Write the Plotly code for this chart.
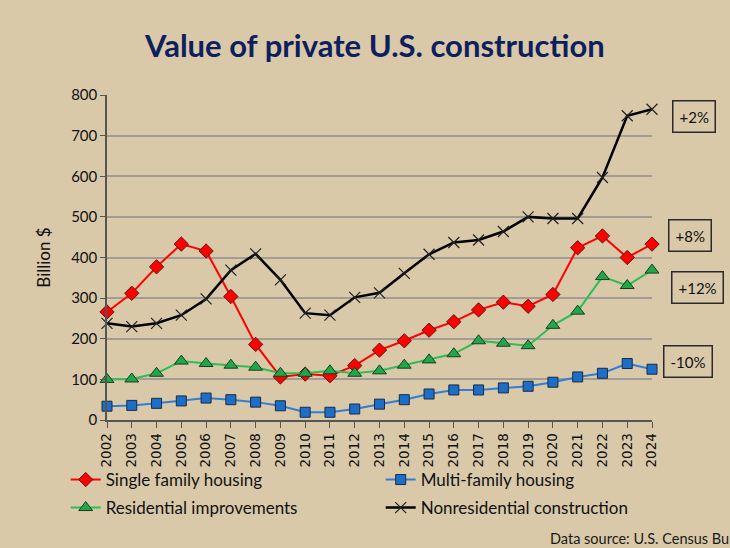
import plotly.graph_objects as go

years = [str(y) for y in range(2002, 2025)]
single_family = [266, 312, 377, 433, 416, 304, 186, 106, 113, 109, 134, 172,
                 195, 221, 242, 271, 290, 280, 309, 424, 453, 400, 433]
multi_family = [34, 36, 41, 47, 54, 50, 44, 35, 19, 19, 27, 39,
                50, 64, 74, 74, 79, 83, 93, 106, 115, 139, 125]
residential_impr = [100, 101, 115, 145, 139, 135, 130, 115, 115, 121, 115, 121,
                    135, 148, 163, 195, 189, 183, 233, 268, 353, 331, 369]
nonresidential = [238, 230, 238, 258, 298, 369, 409, 345, 263, 258, 302, 313,
                  361, 408, 437, 443, 464, 500, 496, 496, 597, 749, 765]

series_names = ["Single family housing", "Multi-family housing",
                "Residential improvements", "Nonresidential construction"]
change_labels = ["+8%", "-10%", "+12%", "+2%"]
label_levels = [455, 143, 325, 748]

title_text = "Value of private U.S. construction"
y_title = "Billion $"
source_text = "Data source: U.S. Census Bureau"

BG = "#D9C9A9"
font_main = "Lato, 'Open Sans', sans-serif"

fig = go.Figure()
fig.add_trace(go.Scatter(
    x=years, y=single_family, name=series_names[0], mode="lines+markers", legend="legend",
    line=dict(color="#FF0000", width=2),
    marker=dict(symbol="diamond", size=11, color="#FF0000", line=dict(color="#5a1a10", width=1)),
    cliponaxis=False))
fig.add_trace(go.Scatter(
    x=years, y=multi_family, name=series_names[1], mode="lines+markers", legend="legend",
    line=dict(color="#2F7ED8", width=2),
    marker=dict(symbol="square", size=10, color="#1C6FC9", line=dict(color="#1d2a40", width=1)),
    cliponaxis=False))
fig.add_trace(go.Scatter(
    x=years, y=residential_impr, name=series_names[2], mode="lines+markers", legend="legend2",
    line=dict(color="#2DBE55", width=2),
    marker=dict(symbol="triangle-up", size=12, color="#1FA84A", line=dict(color="#1d3a20", width=1)),
    cliponaxis=False))
fig.add_trace(go.Scatter(
    x=years, y=nonresidential, name=series_names[3], mode="lines+markers", legend="legend2",
    line=dict(color="#000000", width=2.5),
    marker=dict(symbol="x-thin", size=11, color="#000000", line=dict(color="#222222", width=1.2)),
    cliponaxis=False))

annotations = [
    dict(text=title_text, xref="paper", yref="paper", x=0.49, y=1.0, yshift=50,
         xanchor="center", yanchor="middle", showarrow=False,
         font=dict(family=font_main, size=31, color="#0E1F5E", weight="bold")),
    dict(text=source_text, xref="paper", yref="paper", x=(548 - 107) / 545, y=0,
         yshift=-118, xanchor="left", yanchor="middle", showarrow=False,
         font=dict(family=font_main, size=14.5, color="#1a1a1a")),
]
label_x = [690, 688, 698, 694]
for lab, lev, lx in zip(change_labels, label_levels, label_x):
    annotations.append(dict(
        text=lab, xref="paper", yref="y", x=(lx - 107) / 545, y=lev,
        xanchor="center", yanchor="middle", showarrow=False,
        font=dict(family=font_main, size=15, color="#111111"),
        bordercolor="#2a2a2a", borderwidth=1.5, borderpad=6, bgcolor=BG))

legend_common = dict(orientation="h", x=-0.0758, xanchor="left", yanchor="middle",
                     font=dict(family=font_main, size=17, color="#111111"),
                     entrywidth=270, entrywidthmode="pixels", itemwidth=30,
                     bgcolor="rgba(0,0,0,0)", traceorder="normal")

fig.update_layout(
    width=730, height=548,
    paper_bgcolor=BG, plot_bgcolor=BG,
    margin=dict(l=107, r=78, t=95, b=128),
    showlegend=True,
    legend=dict(legend_common, y=(420 - 480) / 325),
    legend2=dict(legend_common, y=(420 - 508) / 325),
    annotations=annotations,
    xaxis=dict(type="category", range=[0, 22], tickangle=-90,
               tickfont=dict(family="DejaVu Sans", size=13.5, color="#111111"),
               ticks="outside", ticklen=6, tickcolor="#555555",
               showline=True, linecolor="#555555", linewidth=1.5,
               showgrid=False, zeroline=False, fixedrange=True),
    yaxis=dict(range=[0, 800], dtick=100, tickfont=dict(family=font_main, size=15, color="#111111"),
               ticks="outside", ticklen=5, tickcolor="#555555",
               showline=True, linecolor="#555555", linewidth=1.5,
               showgrid=True, gridcolor="#A29C94", gridwidth=1.5, zeroline=False,
               title=dict(text=y_title, font=dict(family=font_main, size=17, color="#111111"), standoff=16)),
)

fig.write_html("out.html", config={"displayModeBar": False},
               post_script="document.body.style.margin='0';document.body.style.overflow='hidden';")
